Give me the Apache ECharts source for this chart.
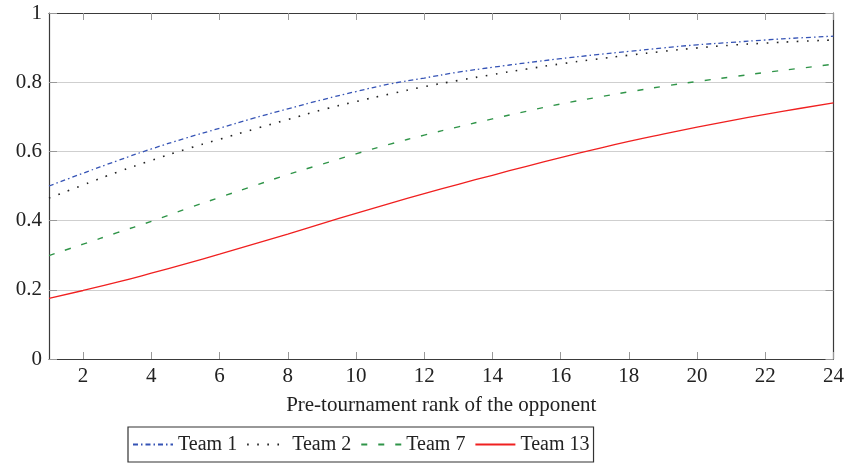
<!DOCTYPE html>
<html>
<head>
<meta charset="utf-8">
<script src="https://cdn.jsdelivr.net/npm/echarts@6/dist/echarts.min.js"></script>
<style>
html,body{margin:0;padding:0;background:#fff;}
#chart{width:847px;height:464px;}
</style>
</head>
<body>
<div id="chart"></div>
<script>
const ranks = [1,2,3,4,5,6,7,8,9,10,11,12,13,14,15,16,17,18,19,20,21,22,23,24];
const team1 = [0.500,0.537,0.573,0.607,0.638,0.667,0.696,0.723,0.749,0.773,0.795,0.812,0.829,0.843,0.856,0.868,0.879,0.889,0.899,0.908,0.915,0.922,0.928,0.933];
const team2 = [0.465,0.503,0.540,0.574,0.606,0.635,0.664,0.692,0.720,0.744,0.766,0.787,0.805,0.822,0.838,0.853,0.866,0.878,0.889,0.899,0.907,0.913,0.918,0.922];
const team7 = [0.299,0.332,0.365,0.398,0.433,0.467,0.500,0.533,0.563,0.593,0.621,0.647,0.671,0.694,0.716,0.737,0.755,0.772,0.788,0.802,0.815,0.828,0.840,0.852];
const team13 = [0.175,0.198,0.222,0.248,0.275,0.303,0.332,0.361,0.391,0.421,0.450,0.478,0.505,0.531,0.557,0.582,0.606,0.629,0.650,0.670,0.689,0.707,0.724,0.740];
const xTicks = [2,4,6,8,10,12,14,16,18,20,22,24];
const seriesNames = ['Team 1','Team 2','Team 7','Team 13'];
const xName = 'Pre-tournament rank of the opponent';

const FONT = '"Liberation Serif", "Times New Roman", serif';
const pair = arr => ranks.map((r,i)=>[r, arr[i]]);

const chart = echarts.init(document.getElementById('chart'), null, {renderer:'canvas'});
const axisLineStyle = {color:'#3a3a3a', width:1.2};
const tickStyle = {color:'#999', width:1};

chart.setOption({
  animation:false,
  backgroundColor:'#fff',
  grid:{left:49, right:12, top:13, bottom:105, containLabel:false},
  legend:{
    left:128, top:427,
    data:seriesNames,
    itemWidth:40, itemHeight:14, itemGap:9,
    padding:[7.5,4],
    borderColor:'#333', borderWidth:1.2,
    itemStyle:{opacity:0},
    textStyle:{fontFamily:FONT, fontSize:20, color:'#222'}
  },
  xAxis:[{
    type:'value', min:1, max:24,
    name:xName, nameLocation:'middle', nameGap:36,
    nameTextStyle:{fontFamily:FONT, fontSize:21, color:'#222'},
    axisLine:{show:true, onZero:false, lineStyle:axisLineStyle},
    axisTick:{show:true, inside:true, length:7, customValues:xTicks, lineStyle:tickStyle},
    axisLabel:{customValues:xTicks, fontFamily:FONT, fontSize:21, color:'#222', margin:7},
    splitLine:{show:false}
  },{
    type:'value', min:1, max:24, position:'top',
    axisLine:{show:true, onZero:false, lineStyle:axisLineStyle},
    axisTick:{show:true, inside:true, length:7, customValues:xTicks, lineStyle:tickStyle},
    axisLabel:{show:false},
    splitLine:{show:false}
  }],
  yAxis:[{
    type:'value', min:0, max:1, interval:0.2,
    axisLine:{show:true, onZero:false, lineStyle:axisLineStyle},
    axisTick:{show:true, inside:true, length:8, lineStyle:tickStyle},
    axisLabel:{fontFamily:FONT, fontSize:21, color:'#222', margin:7,
      formatter: v => (Math.round(v*10)/10).toString()},
    splitLine:{show:true, lineStyle:{color:'#cfcfcf', width:1.2}}
  },{
    type:'value', min:0, max:1, interval:0.2, position:'right',
    axisLine:{show:true, onZero:false, lineStyle:axisLineStyle},
    axisTick:{show:true, inside:true, length:8, lineStyle:tickStyle},
    axisLabel:{show:false},
    splitLine:{show:false}
  }],
  series:[
    {name:seriesNames[0], type:'line', data:pair(team1), smooth:true, symbol:'none',
      lineStyle:{color:'#3553b5', width:1.3, type:[5,3,1.5,3]}, itemStyle:{color:'#3553b5'}},
    {name:seriesNames[1], type:'line', data:pair(team2), smooth:true, symbol:'none',
      lineStyle:{color:'#222', width:1.6, type:[1.6,8.5]}, itemStyle:{color:'#222'}},
    {name:seriesNames[2], type:'line', data:pair(team7), smooth:true, symbol:'none',
      lineStyle:{color:'#2f9448', width:1.4, type:[6,11]}, itemStyle:{color:'#2f9448'}},
    {name:seriesNames[3], type:'line', data:pair(team13), smooth:true, symbol:'none',
      lineStyle:{color:'#f02020', width:1.3, type:'solid'}, itemStyle:{color:'#f02020'}}
  ]
});
</script>
</body>
</html>
